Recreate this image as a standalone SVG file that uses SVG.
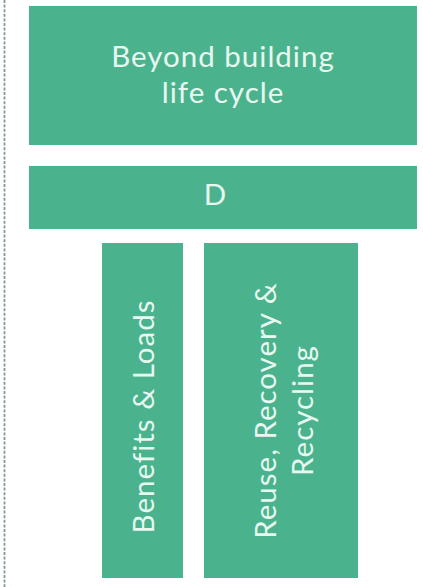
<svg xmlns="http://www.w3.org/2000/svg" width="423" height="587" viewBox="0 0 423 587">
<style>
.box{fill:#4ab38e}
.lbl{fill:#e8f8f0;font-family:Lato,"Open Sans",sans-serif;font-size:29.5px;text-anchor:middle;letter-spacing:1px}
</style>
<rect width="423" height="587" fill="#ffffff"/>
<g id="guide">
<line x1="4.5" y1="0" x2="4.5" y2="587" stroke="#7f9e87" stroke-width="1.8" stroke-dasharray="3,1.6"/>
</g>
<g id="beyond">
<rect class="box" x="29" y="6" width="388" height="139"/>
<text class="lbl" x="223" y="66.5">Beyond building</text>
<text class="lbl" x="223" y="102.5">life cycle</text>
</g>
<g id="d">
<rect class="box" x="29" y="166" width="388" height="63"/>
<text class="lbl" x="215.5" y="205">D</text>
</g>
<g id="benefits">
<rect class="box" x="102" y="243" width="81" height="335"/>
<text class="lbl" transform="translate(153.5,416.5) rotate(-90)">Benefits &amp; Loads</text>
</g>
<g id="reuse">
<rect class="box" x="204" y="243" width="154" height="335"/>
<text class="lbl" transform="translate(275.5,410.5) rotate(-90)">Reuse, Recovery &amp;</text>
<text class="lbl" transform="translate(312.5,410.5) rotate(-90)">Recycling</text>
</g>
<g id="connectors"></g>
</svg>
